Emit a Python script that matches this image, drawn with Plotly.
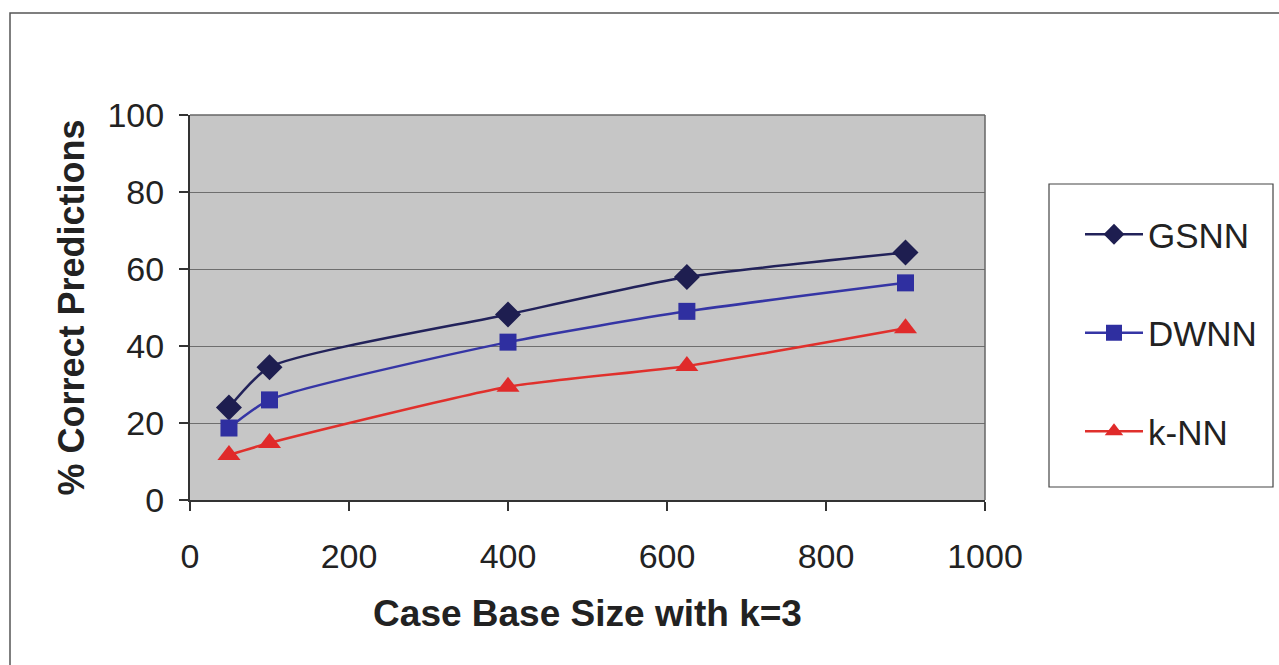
import plotly.graph_objects as go

case_base_size = [49, 100, 400, 625, 900]
gsnn = [24, 34.5, 48.2, 57.9, 64.3]
dwnn = [18.7, 26, 41, 49, 56.4]
knn = [11.7, 14.8, 29.4, 34.8, 44.6]

x_ticks = [0, 200, 400, 600, 800, 1000]
y_ticks = [0, 20, 40, 60, 80, 100]

W, H = 1279, 665
L, R, T, B = 190, 985, 115, 500

def px(xp):
    return (xp - L) / (R - L)

def py(yp):
    return (B - yp) / (B - T)

fig = go.Figure()
series = [
    ("GSNN", gsnn, "#22225a", "#1e1e50", "diamond", 20),
    ("DWNN", dwnn, "#3535a5", "#2f2fa0", "square", 17),
    ("k-NN", knn, "#e0302c", "#e02a2a", "triangle-up", 20),
]
for i, (name, ys, lc, mc, sym, ms) in enumerate(series):
    fig.add_trace(go.Scatter(
        x=case_base_size, y=ys, name=name, mode="lines+markers",
        line=dict(color=lc, width=2.5, shape="spline", smoothing=0.6),
        marker=dict(symbol=sym, size=ms, color=mc, line=dict(width=0)),
        legendgroup=f"g{i}",
    ))

fig.update_layout(
    width=W, height=H,
    margin=dict(l=L, r=W - R, t=T, b=H - B),
    paper_bgcolor="white",
    plot_bgcolor="#c6c6c6",
    font=dict(family="Liberation Sans, Arial, sans-serif", size=34, color="#222222"),
    showlegend=True,
    legend=dict(
        x=px(1080), y=py(205), xanchor="left", yanchor="top",
        bgcolor="rgba(0,0,0,0)", borderwidth=0,
        font=dict(size=35, color="#222222"),
        traceorder="grouped", tracegroupgap=50,
        itemwidth=58,
    ),
    xaxis=dict(
        range=[0, 1000], tickvals=x_ticks, ticktext=[str(v) for v in x_ticks],
        showgrid=False, zeroline=False,
        showline=True, linecolor="#333333", linewidth=2,
        ticks="outside", ticklen=9, tickcolor="#333333", tickwidth=1.5,
        ticklabelstandoff=16,
        tickfont=dict(size=34),
        title=dict(text="<b>Case Base Size with k=3</b>", font=dict(size=37), standoff=26),
    ),
    yaxis=dict(
        range=[0, 100], tickvals=y_ticks, ticktext=[str(v) for v in y_ticks],
        showgrid=True, gridcolor="#6e6e6e", gridwidth=1,
        zeroline=False,
        showline=True, linecolor="#333333", linewidth=2,
        ticks="outside", ticklen=9, tickcolor="#333333", tickwidth=1.5,
        ticklabelstandoff=8,
        tickfont=dict(size=34),
        title=dict(text="<b>% Correct Predictions</b>", font=dict(size=36), standoff=12),
    ),
    shapes=[
        dict(type="rect", xref="paper", yref="paper",
             x0=px(10), x1=px(1290), y0=py(690), y1=py(13),
             line=dict(color="#555555", width=1.5), fillcolor="rgba(0,0,0,0)", layer="below"),
        dict(type="line", xref="paper", yref="paper", x0=1, x1=1, y0=0, y1=1,
             line=dict(color="#666666", width=1.5)),
        dict(type="line", xref="paper", yref="paper", x0=0, x1=1, y0=1, y1=1,
             line=dict(color="#666666", width=1.5)),
        dict(type="rect", xref="paper", yref="paper",
             x0=px(1049), x1=px(1273), y0=py(487), y1=py(184),
             line=dict(color="#444444", width=1.2), fillcolor="white", layer="below"),
    ],
)

fig.write_html("out.html")
